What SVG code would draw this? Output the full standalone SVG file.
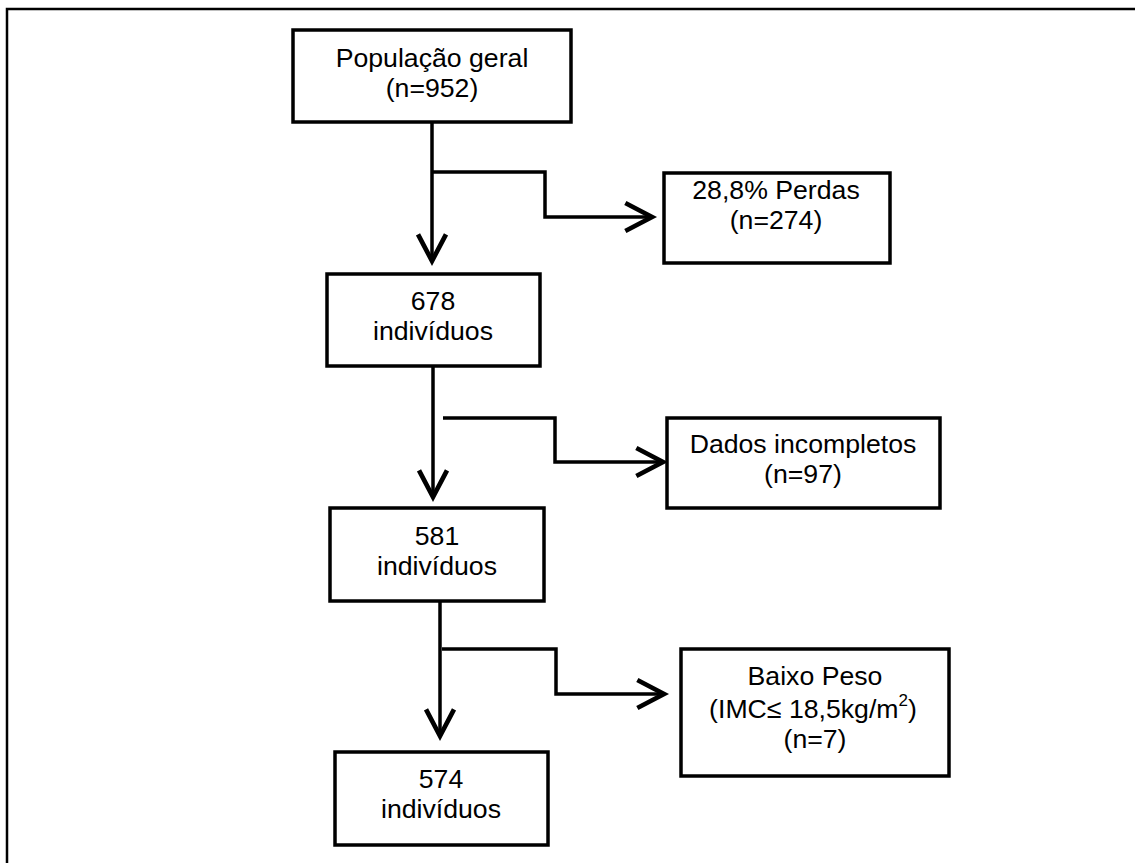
<svg xmlns="http://www.w3.org/2000/svg" width="1135" height="863" viewBox="0 0 1135 863">
<style>
.box{fill:#fff;stroke:#000;stroke-width:3.5}
.t{font-family:"Liberation Sans",Arial,sans-serif;font-size:26.67px;fill:#000;text-anchor:middle}
.c{fill:none;stroke:#000;stroke-width:3.5}
</style>
<defs>
<marker id="arr" markerUnits="userSpaceOnUse" markerWidth="40" markerHeight="40" viewBox="-25 -15 30 30" refX="0" refY="0" orient="auto" overflow="visible">
<path d="M-20,-10.5 L0,0 L-20,10.5" fill="none" stroke="#000" stroke-width="3.5" stroke-linejoin="miter"/>
</marker>
</defs>
<rect width="1135" height="863" fill="#fff"/>
<g id="frame">
<path d="M7,863 V9 H1135" fill="none" stroke="#000" stroke-width="2.5"/>
</g>
<g id="connectors">
<path class="c" d="M432,122 V261" marker-end="url(#arr)"/>
<path class="c" d="M432,172 H545 V217 H652" marker-end="url(#arr)"/>
<path class="c" d="M433,364 V497" marker-end="url(#arr)"/>
<path class="c" d="M443,418 H555 V462 H663" marker-end="url(#arr)"/>
<path class="c" d="M440,601 V736" marker-end="url(#arr)"/>
<path class="c" d="M442,649 H556 V694 H664" marker-end="url(#arr)"/>
</g>
<g id="n1">
<rect class="box" x="293" y="30" width="278" height="92"/>
<text class="t" x="432" y="67">População geral</text>
<text class="t" x="432" y="97">(n=952)</text>
</g>
<g id="n2">
<rect class="box" x="664" y="173" width="226" height="90"/>
<text class="t" x="776" y="199">28,8% Perdas</text>
<text class="t" x="776" y="229">(n=274)</text>
</g>
<g id="n3">
<rect class="box" x="327" y="274" width="213" height="92"/>
<text class="t" x="433" y="310">678</text>
<text class="t" x="433" y="340">indivíduos</text>
</g>
<g id="n4">
<rect class="box" x="667" y="418" width="273" height="90"/>
<text class="t" x="803" y="453">Dados incompletos</text>
<text class="t" x="803" y="483">(n=97)</text>
</g>
<g id="n5">
<rect class="box" x="330" y="508" width="214" height="93"/>
<text class="t" x="437" y="545">581</text>
<text class="t" x="437" y="575">indivíduos</text>
</g>
<g id="n6">
<rect class="box" x="681" y="649" width="268" height="127"/>
<text class="t" x="815" y="685">Baixo Peso</text>
<text class="t" x="813" y="718">(IMC≤ 18,5kg/m<tspan font-size="17" dy="-12">2</tspan><tspan dy="12">)</tspan></text>
<text class="t" x="815" y="748">(n=7)</text>
</g>
<g id="n7">
<rect class="box" x="335" y="752" width="213" height="93"/>
<text class="t" x="441" y="788">574</text>
<text class="t" x="441" y="818">indivíduos</text>
</g>
</svg>
